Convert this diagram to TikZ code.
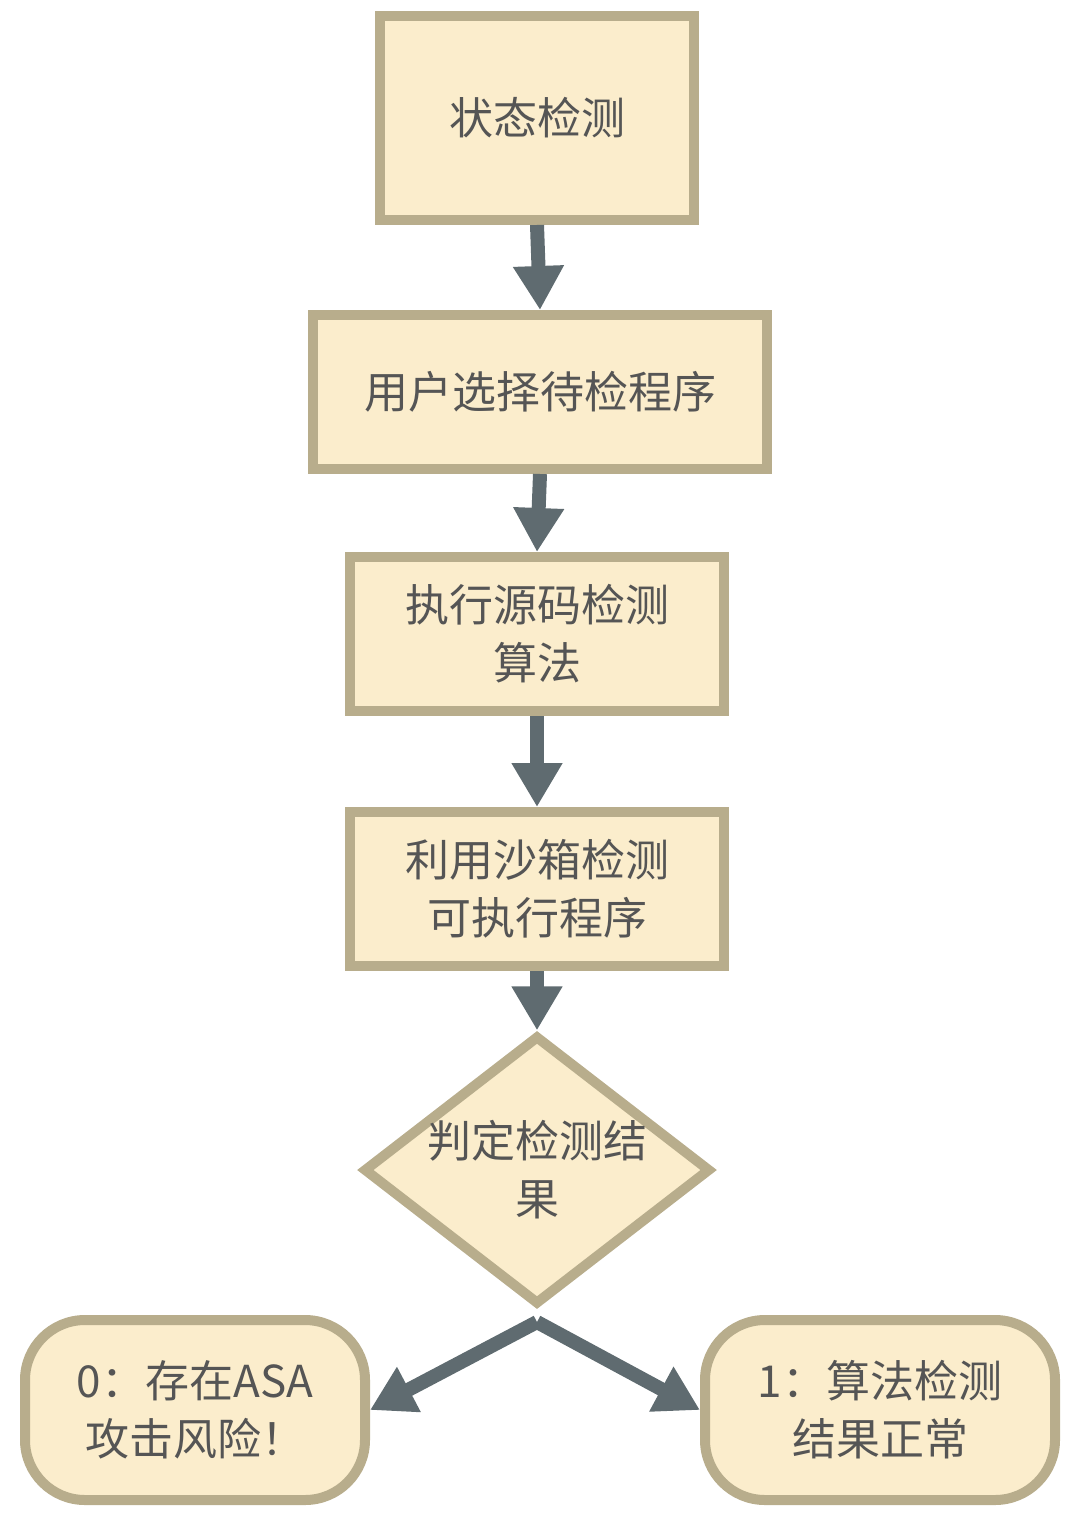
\documentclass[tikz,border=0pt]{standalone}
\usepackage{fontspec}
\newfontfamily\cjk{Noto Sans CJK SC}
\usetikzlibrary{shapes.geometric,arrows.meta}
\definecolor{boxfill}{HTML}{FBEDCC}
\definecolor{boxline}{HTML}{B8AD8C}
\definecolor{arr}{HTML}{5F6B70}
\definecolor{txt}{HTML}{555555}
\begin{document}
\begin{tikzpicture}[x=0.5pt,y=-0.5pt,
  box/.style={draw=boxline,line width=5pt,fill=boxfill,inner sep=0pt,font=\cjk\fontsize{22}{29}\selectfont,text=txt,align=center},
  ar/.style={draw=arr,line width=7pt,-{Triangle[length=22pt,width=24pt]}}]
\useasboundingbox (0,0) rectangle (1074,1518);
\node[box,minimum width=157pt,minimum height=102pt] (a) at (537,118) {状态检测};
\node[box,minimum width=227pt,minimum height=77pt] (b) at (540,392) {用户选择待检程序};
\node[box,minimum width=187pt,minimum height=77pt] (c) at (537,634) {执行源码检测\\算法};
\node[box,minimum width=187pt,minimum height=77pt] (d) at (537,889) {利用沙箱检测\\可执行程序};
\node[box,diamond,minimum width=157pt,minimum height=122pt,aspect=1.29] (e) at (537,1170) {判定检测结\\果};
\node[box,rounded corners=30pt,minimum width=170pt,minimum height=90pt] (l) at (195,1410) {0：存在ASA\\攻击风险！};
\node[box,rounded corners=30pt,minimum width=175pt,minimum height=90pt] (r) at (880,1410) {1：算法检测\\结果正常};
\draw[ar] (a.south) -- (b.north);
\draw[ar] (b.south) -- (c.north);
\draw[ar] (c.south) -- (d.north);
\draw[ar] (d.south) -- (e.north);
\coordinate (j) at (537,1322);
\draw[ar] (j) -- (l.east);
\draw[ar] (j) -- (r.west);
\end{tikzpicture}
\end{document}
